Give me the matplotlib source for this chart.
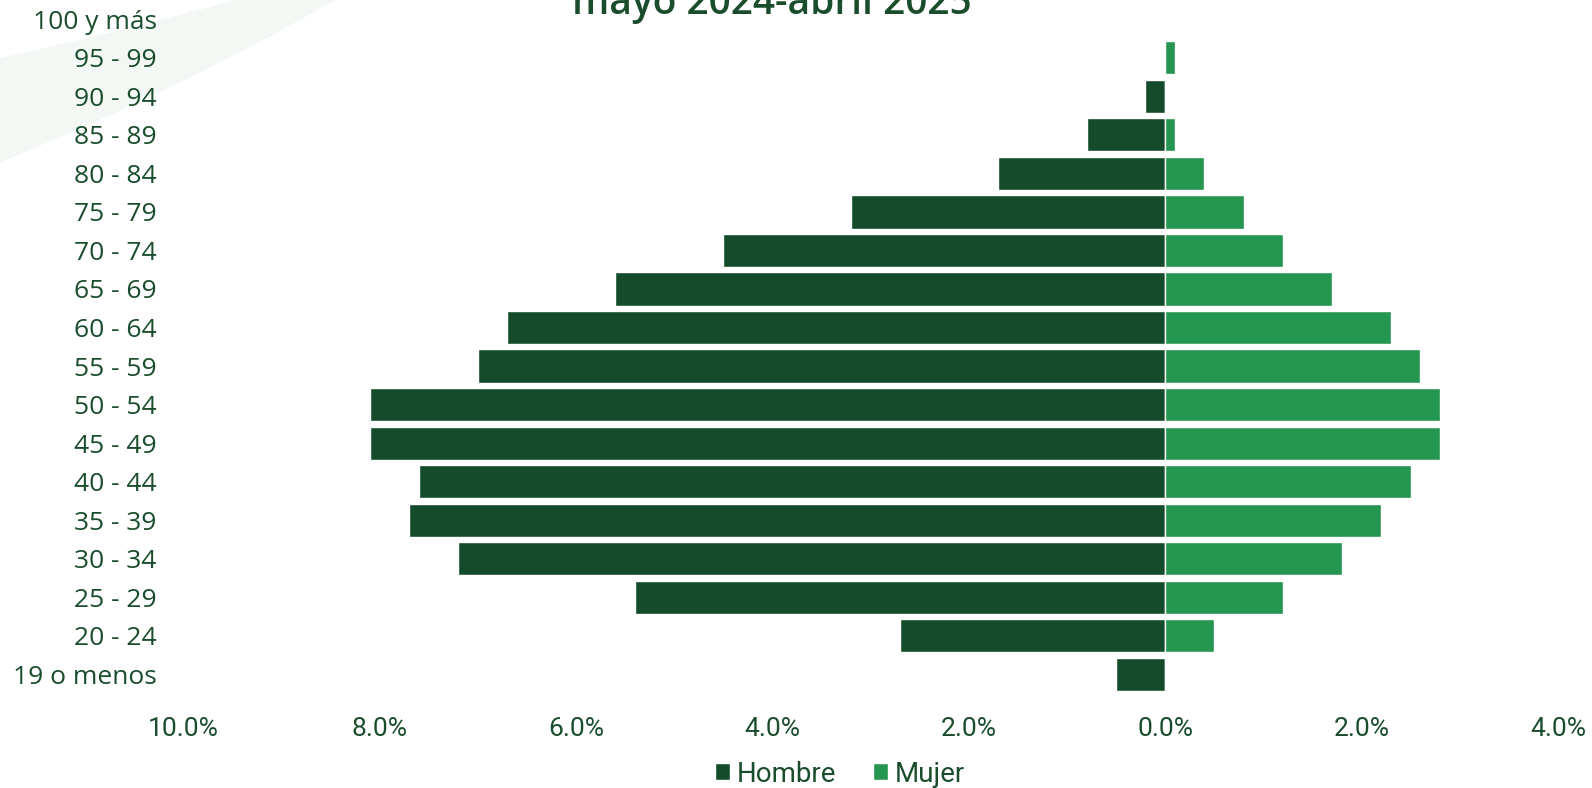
import matplotlib.pyplot as plt
from matplotlib import font_manager
from matplotlib.patches import PathPatch
from matplotlib.path import Path
from matplotlib.ticker import FuncFormatter
import numpy as np

plt.rcParams["font.family"] = ["Open Sans", "DejaVu Sans"]

# narrow face for the percent axis and the legend, if present
installed = {f.name for f in font_manager.fontManager.ttflist}
narrow = "Liberation Sans Narrow" if "Liberation Sans Narrow" in installed else "Roboto"

# age groups, top to bottom
grupos = ["100 y más", "95 - 99", "90 - 94", "85 - 89", "80 - 84", "75 - 79",
          "70 - 74", "65 - 69", "60 - 64", "55 - 59", "50 - 54", "45 - 49",
          "40 - 44", "35 - 39", "30 - 34", "25 - 29", "20 - 24", "19 o menos"]
# share of total (%)
hombre = [0.0, 0.0, 0.2, 0.8, 1.7, 3.2, 4.5, 5.6, 6.7, 7.0, 8.1, 8.1,
          7.6, 7.7, 7.2, 5.4, 2.7, 0.5]
mujer = [0.0, 0.1, 0.0, 0.1, 0.4, 0.8, 1.2, 1.7, 2.3, 2.6, 2.8, 2.8,
         2.5, 2.2, 1.8, 1.2, 0.5, 0.0]
xticks = [-10, -8, -6, -4, -2, 0, 2, 4]
titulo = "mayo 2024-abril 2025"

c_hombre = "#144b2a"
c_mujer = "#25964f"
c_text = "#1a4d2c"

W, H = 1592, 788
fig = plt.figure(figsize=(W / 100, H / 100), dpi=100)


def fig_xy(px, py):
    # pixel coords (top-left origin) -> figure fraction
    return (px / W, 1 - py / H)


# faint decorative swoosh in the top-left corner
band = Path(
    [fig_xy(235, 0), fig_xy(335, 0), fig_xy(180, 90), fig_xy(0, 162),
     fig_xy(0, 58), fig_xy(120, 32), fig_xy(235, 0)],
    [Path.MOVETO, Path.LINETO, Path.CURVE3, Path.CURVE3,
     Path.LINETO, Path.CURVE3, Path.CURVE3],
)
fig.patches.append(PathPatch(band, transform=fig.transFigure, fc="#f3f8f4",
                             ec="none", zorder=-5))

ax = fig.add_axes([183 / W, 1 - 693.6 / H, (1558 - 183) / W, 693.6 / H])
ax.patch.set_alpha(0)

y = np.arange(len(grupos))
ax.barh(y, -np.array(hombre), height=0.86, color=c_hombre, edgecolor="white",
        linewidth=1.0, label="Hombre")
ax.barh(y, mujer, height=0.86, color=c_mujer, edgecolor="white",
        linewidth=1.0, label="Mujer")

ax.set_ylim(len(grupos) - 0.5, -0.5)
ax.set_xlim(xticks[0], xticks[-1])
ax.set_yticks(y)
ax.set_yticklabels(grupos)
ax.set_xticks(xticks)
ax.xaxis.set_major_formatter(FuncFormatter(lambda v, _: f"{abs(v):.1f}%"))

ax.tick_params(axis="both", length=0, labelcolor=c_text)
ax.tick_params(axis="y", pad=19, labelsize=19)
ax.tick_params(axis="x", pad=17, labelsize=19)
for lab in ax.get_xticklabels():
    lab.set_family([narrow, "DejaVu Sans"])
for s in ax.spines.values():
    s.set_visible(False)

fig.text(772 / W, 1 - 14 / H, titulo, ha="center", va="baseline",
         fontsize=28, fontweight="semibold", color=c_text)

fig.legend(loc="center", bbox_to_anchor=(840 / W, 1 - 774 / H), ncol=2,
           frameon=False, labelcolor=c_text, handlelength=0.55,
           handleheight=0.55, handletextpad=0.25, columnspacing=1.3,
           prop={"family": [narrow, "DejaVu Sans"], "size": 20})

fig.savefig("out.png", dpi=100)
